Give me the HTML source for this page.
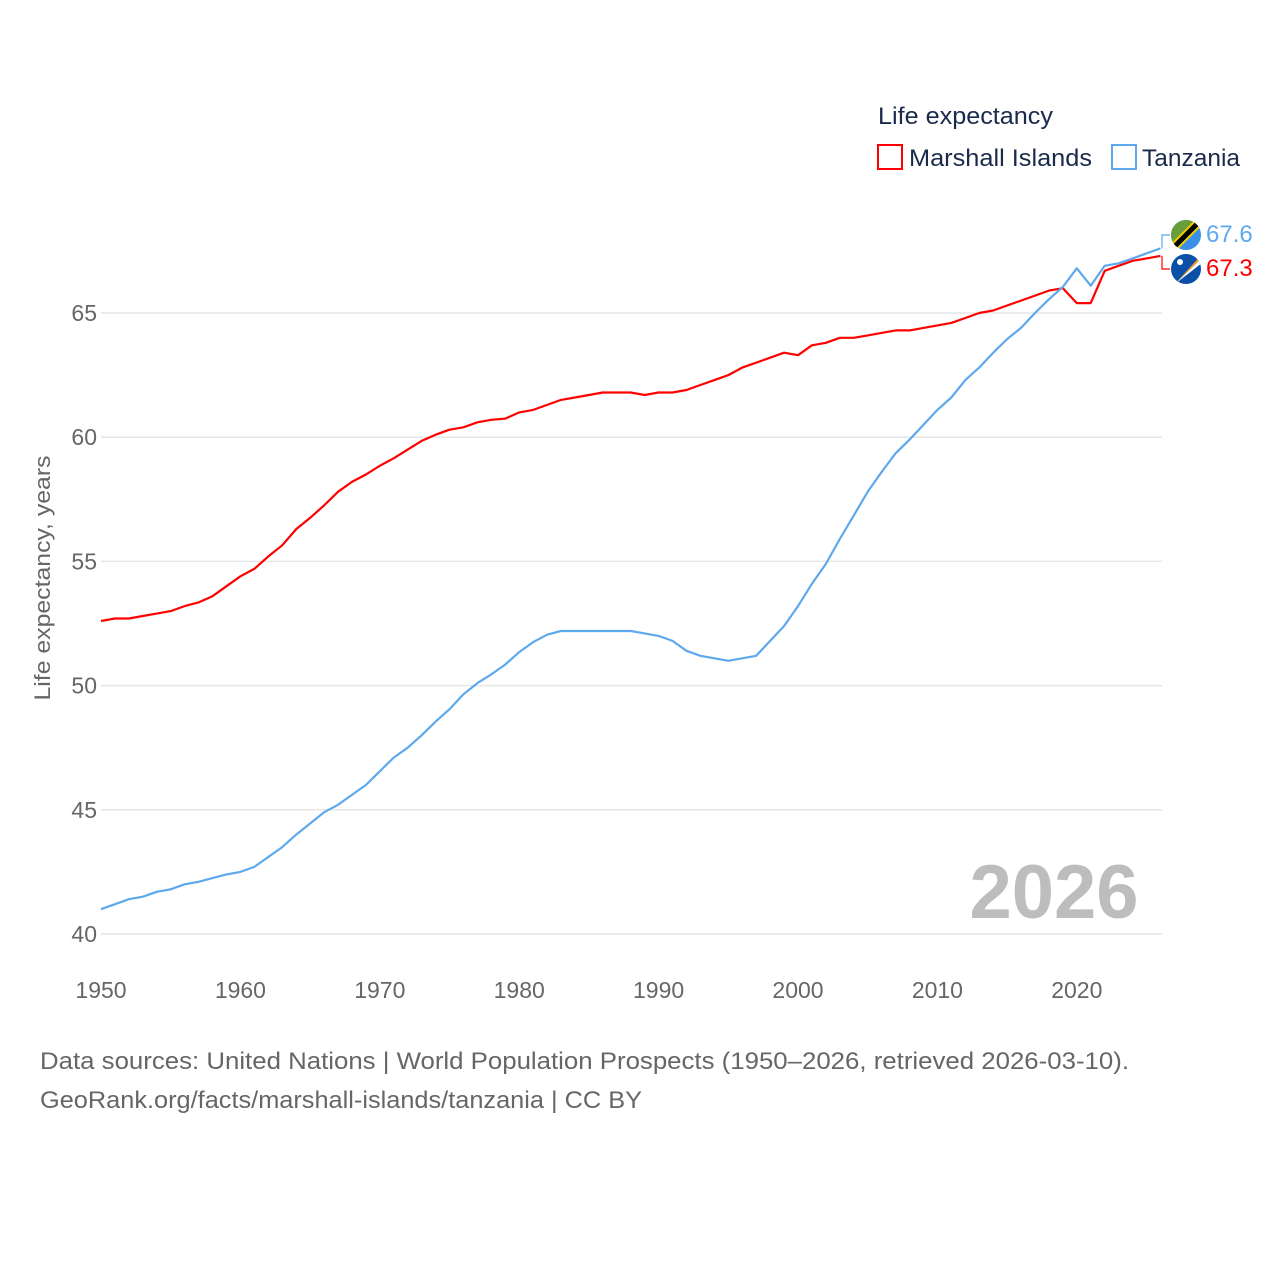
<!DOCTYPE html>
<html><head><meta charset="utf-8"><style>
body{margin:0;background:#fff;font-family:"Liberation Sans",sans-serif}
svg text{font-family:"Liberation Sans",sans-serif}
</style></head><body>
<svg id="chart" width="1280" height="1280" viewBox="0 0 1280 1280">
<g id="grid"></g>
<g id="series"></g>
<text x="1054" y="918" font-size="76" font-weight="bold" fill="#bdbdbd" text-anchor="middle">2026</text>
<text transform="translate(50,578) rotate(-90)" font-size="22" fill="#666" text-anchor="middle" textLength="245" lengthAdjust="spacingAndGlyphs">Life expectancy, years</text>
<text x="878" y="124" font-size="24" fill="#1a2a4a" textLength="175" lengthAdjust="spacingAndGlyphs">Life expectancy</text>
<g>
<rect x="878" y="145" width="24" height="24" fill="none" stroke="#ff0000" stroke-width="2"/>
<text x="909" y="166" font-size="24" fill="#1a2a4a" textLength="183" lengthAdjust="spacingAndGlyphs">Marshall Islands</text></g>
<g>
<rect x="1112" y="145" width="24" height="24" fill="none" stroke="#5ea8ee" stroke-width="2"/>
<text x="1142" y="166" font-size="24" fill="#1a2a4a" textLength="98" lengthAdjust="spacingAndGlyphs">Tanzania</text></g>
<g>
<clipPath id="c1"><circle cx="1186" cy="235" r="15"/></clipPath>
<g clip-path="url(#c1)"><rect x="1170" y="219" width="32" height="32" fill="#3b8fe8"/><polygon points="1170,219 1202,219 1170,251" fill="#6a9e3b"/><line x1="1202" y1="219" x2="1170" y2="251" stroke="#f0d000" stroke-width="9"/><line x1="1202" y1="219" x2="1170" y2="251" stroke="#000" stroke-width="5"/></g></g>
<g>
<clipPath id="c2"><circle cx="1186" cy="269" r="15"/></clipPath>
<g clip-path="url(#c2)"><rect x="1170" y="253" width="32" height="32" fill="#0a4fa8"/><polygon points="1175,284 1202,254 1202,258" fill="#f39a2b"/><polygon points="1175,284 1202,258 1202,263" fill="#fff"/><circle cx="1180" cy="262" r="3" fill="#fff"/></g></g>
<text x="1206" y="242" font-size="24" fill="#5ea8ee">67.6</text>
<text x="1206" y="276" font-size="24" fill="#ff0000">67.3</text>
<text x="40" y="1069" font-size="24" fill="#666" textLength="1089" lengthAdjust="spacingAndGlyphs">Data sources: United Nations | World Population Prospects (1950–2026, retrieved 2026-03-10).</text>
<text x="40" y="1108" font-size="24" fill="#666" textLength="602" lengthAdjust="spacingAndGlyphs">GeoRank.org/facts/marshall-islands/tanzania | CC BY</text>
</svg>
<script>
const years=[];for(let y=1950;y<=2026;y++)years.push(y);
const tanzania=[41.0,41.2,41.4,41.5,41.7,41.8,42.0,42.1,42.25,42.4,42.5,42.7,43.1,43.5,44.0,44.45,44.9,45.2,45.6,46.0,46.55,47.1,47.5,48.0,48.55,49.05,49.65,50.1,50.45,50.85,51.35,51.75,52.05,52.2,52.2,52.2,52.2,52.2,52.2,52.1,52.0,51.8,51.4,51.2,51.1,51.0,51.1,51.2,51.8,52.4,53.2,54.1,54.9,55.9,56.85,57.8,58.6,59.35,59.9,60.5,61.1,61.6,62.3,62.8,63.4,63.95,64.4,65.0,65.55,66.05,66.8,66.1,66.9,67.0,67.2,67.4,67.6];
const marshall=[52.6,52.7,52.7,52.8,52.9,53.0,53.2,53.35,53.6,54.0,54.4,54.7,55.2,55.65,56.3,56.75,57.25,57.8,58.2,58.5,58.85,59.15,59.5,59.85,60.1,60.3,60.4,60.6,60.7,60.75,61.0,61.1,61.3,61.5,61.6,61.7,61.8,61.8,61.8,61.7,61.8,61.8,61.9,62.1,62.3,62.5,62.8,63.0,63.2,63.4,63.3,63.7,63.8,64.0,64.0,64.1,64.2,64.3,64.3,64.4,64.5,64.6,64.8,65.0,65.1,65.3,65.5,65.7,65.9,66.0,65.4,65.4,66.7,66.9,67.1,67.2,67.3];
const yTicks=[40,45,50,55,60,65];
const xTicks=[1950,1960,1970,1980,1990,2000,2010,2020];
const NS='http://www.w3.org/2000/svg';
const X=y=>101+(y-1950)*13.94;
const Y=v=>934-(v-40)*24.84;
const grid=document.getElementById('grid');
yTicks.forEach(t=>{
 const l=document.createElementNS(NS,'line');
 l.setAttribute('x1',101);l.setAttribute('x2',1162);l.setAttribute('y1',Y(t));l.setAttribute('y2',Y(t));
 l.setAttribute('stroke','#e6e6e6');l.setAttribute('stroke-width','1.5');
 
 
 grid.appendChild(l);
 const tx=document.createElementNS(NS,'text');
 tx.setAttribute('x',97);tx.setAttribute('y',Y(t)+8);tx.setAttribute('text-anchor','end');
 tx.setAttribute('font-size','23');tx.setAttribute('fill','#666');tx.textContent=t;
 
 
 grid.appendChild(tx);
});
xTicks.forEach(t=>{
 const tx=document.createElementNS(NS,'text');
 tx.setAttribute('x',X(t));tx.setAttribute('y',998);tx.setAttribute('text-anchor','middle');
 tx.setAttribute('font-size','23');tx.setAttribute('fill','#666');tx.textContent=t;
 
 
 grid.appendChild(tx);
});
const series=document.getElementById('series');
function draw(vals,color,name){
 const p=document.createElementNS(NS,'polyline');
 p.setAttribute('points',vals.map((v,i)=>X(years[i]).toFixed(1)+','+Y(v).toFixed(1)).join(' '));
 p.setAttribute('fill','none');p.setAttribute('stroke',color);p.setAttribute('stroke-width','2.2');
 p.setAttribute('stroke-linejoin','round');
 
 
 series.appendChild(p);
 const c=document.createElementNS(NS,'polyline');
 const ly=name==='line-tanzania'?235:269;
 const ey=Y(vals[vals.length-1]);
 c.setAttribute('points',`1162,${ey} 1162,${ly} 1170,${ly}`);
 c.setAttribute('fill','none');c.setAttribute('stroke',color);c.setAttribute('stroke-width','1.2');
 
 
 series.appendChild(c);
}
draw(marshall,'#ff0000','line-marshall-islands');
draw(tanzania,'#5ea8ee','line-tanzania');
</script>
</body></html>
